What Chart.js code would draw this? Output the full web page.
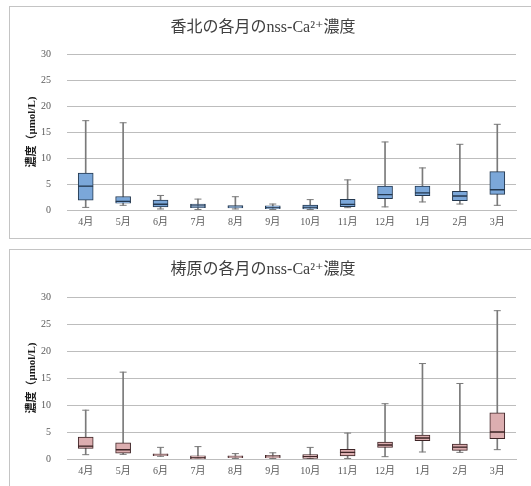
<!DOCTYPE html>
<html>
<head>
<meta charset="utf-8">
<script src="https://cdn.jsdelivr.net/npm/chart.js@4/dist/chart.umd.min.js"></script>
<style>
  body { margin: 0; background: #ffffff; overflow: hidden; width: 531px; height: 486px; position: relative; }
  .box { position: absolute; left: 9px; width: 540px; border: 1px solid #c4c4c4; background: #fff; }
  #box1 { top: 6px; height: 231px; }
  #box2 { top: 249px; height: 240px; }
  canvas { display: block; }
</style>
</head>
<body>
<div class="box" id="box1"><canvas id="chart1" width="517" height="231"></canvas></div>
<div class="box" id="box2"><canvas id="chart2" width="517" height="236"></canvas></div>
<script>
'use strict';

const months = ['4月', '5月', '6月', '7月', '8月', '9月', '10月', '11月', '12月', '1月', '2月', '3月']
const yTicks = [0, 5, 10, 15, 20, 25, 30]

// 香北
const kahokuMin = [0.5, 0.9, 0.2, 0.1, 0.2, 0.1, 0.1, 0.45, 0.6, 1.55, 1.15, 0.9]
const kahokuQ1 = [1.9, 1.3, 0.6, 0.45, 0.38, 0.25, 0.2, 0.64, 2.2, 2.75, 1.8, 3.0]
const kahokuMed = [4.6, 1.65, 1.1, 0.77, 0.6, 0.5, 0.5, 1.08, 2.95, 3.3, 2.7, 3.9]
const kahokuQ3 = [7.1, 2.6, 1.9, 1.15, 0.83, 0.8, 0.96, 2.05, 4.6, 4.6, 3.6, 7.4]
const kahokuMax = [17.2, 16.8, 2.8, 2.1, 2.56, 1.15, 2.0, 5.8, 13.1, 8.1, 12.65, 16.5]

// 梼原
const yusuharaMin = [0.8, 0.86, 0.5, 0.05, 0.1, 0.1, 0.05, 0.1, 0.43, 1.3, 1.23, 1.73]
const yusuharaQ1 = [1.95, 1.1, 0.6, 0.05, 0.25, 0.2, 0.1, 0.55, 2.16, 3.4, 1.6, 3.76]
const yusuharaMed = [2.4, 1.72, 0.8, 0.3, 0.45, 0.4, 0.43, 1.23, 2.6, 3.9, 2.2, 5.0]
const yusuharaQ3 = [4.07, 3.0, 0.98, 0.6, 0.6, 0.66, 0.8, 1.8, 3.14, 4.44, 2.78, 8.57]
const yusuharaMax = [9.05, 16.1, 2.16, 2.3, 1.0, 1.15, 2.15, 4.8, 10.25, 17.7, 14.0, 27.5]

const serif = '"Liberation Serif", "DejaVu Serif", "Noto Sans CJK JP", serif'
const gridColor = '#bdbdbd'
const whiskerColor = '#7a7a7a'

function pairs(a, b) {
    const out = []
    for (let i = 0; i < a.length; i++) {
        out.push([a[i], b[i]])
    }
    return out
}

function makeChart(canvasId, title, mins, q1, med, q3, maxs, fill, edge, pad) {
    const boxStyle = {
        type: 'bar',
        grouped: false,
        barThickness: 15,
        backgroundColor: fill,
        borderColor: edge,
        borderWidth: 1,
        borderSkipped: false,
    }
    const data = {
        labels: months,
        datasets: [
            Object.assign({ label: 'upper', data: pairs(med, q3) }, boxStyle),
            Object.assign({ label: 'lower', data: pairs(q1, med) }, boxStyle),
            {
                type: 'bar',
                label: 'whisker',
                grouped: false,
                data: pairs(mins, maxs),
                barThickness: 1,
                backgroundColor: whiskerColor,
                borderWidth: 0,
            },
            {
                type: 'line',
                label: 'max',
                data: maxs,
                showLine: false,
                pointStyle: 'line',
                pointRadius: 3.5,
                pointBorderWidth: 1,
                pointBorderColor: whiskerColor,
            },
            {
                type: 'line',
                label: 'min',
                data: mins,
                showLine: false,
                pointStyle: 'line',
                pointRadius: 3.5,
                pointBorderWidth: 1,
                pointBorderColor: whiskerColor,
            },
        ]
    }
    const config = {
        type: 'bar',
        data: data,
        options: {
            responsive: false,
            animation: false,
            layout: { padding: { left: 0, right: 11, top: pad.top, bottom: pad.bottom } },
            plugins: {
                legend: { display: false },
                tooltip: { enabled: false },
                title: {
                    display: true,
                    text: title,
                    color: '#404040',
                    font: { family: serif, size: 16, weight: 'normal' },
                    padding: { top: 0, bottom: pad.titleGap },
                },
            },
            scales: {
                x: {
                    grid: { display: false, drawTicks: false },
                    border: { display: true, color: gridColor },
                    ticks: { color: '#595959', font: { family: serif, size: 10 }, padding: 6 },
                    afterFit: (scale) => { scale.height = 20 },
                },
                y: {
                    min: 0,
                    max: 30,
                    afterBuildTicks: (scale) => { scale.ticks = yTicks.map(v => ({ value: v })) },
                    grid: { color: gridColor, drawTicks: false },
                    border: { display: false },
                    ticks: { color: '#595959', font: { family: serif, size: 10 }, padding: 16 },
                    title: {
                        display: true,
                        text: '濃度（μmol/L)',
                        color: '#1a1a1a',
                        font: { family: serif, size: 11, weight: 'bold' },
                        padding: { top: 16, bottom: 0 },
                    },
                    afterFit: (scale) => { scale.width = 57 },
                },
            },
        },
    }
    return new Chart(document.getElementById(canvasId), config)
}

makeChart('chart1', '香北の各月のnss-Ca²⁺濃度',
    kahokuMin, kahokuQ1, kahokuMed, kahokuQ3, kahokuMax,
    '#7ba7d9', '#24384f', { top: 11, bottom: 8, titleGap: 17 })

makeChart('chart2', '梼原の各月のnss-Ca²⁺濃度',
    yusuharaMin, yusuharaQ1, yusuharaMed, yusuharaQ3, yusuharaMax,
    '#dcaeb0', '#3e2426', { top: 10, bottom: 7, titleGap: 18 })
</script>
</body>
</html>
